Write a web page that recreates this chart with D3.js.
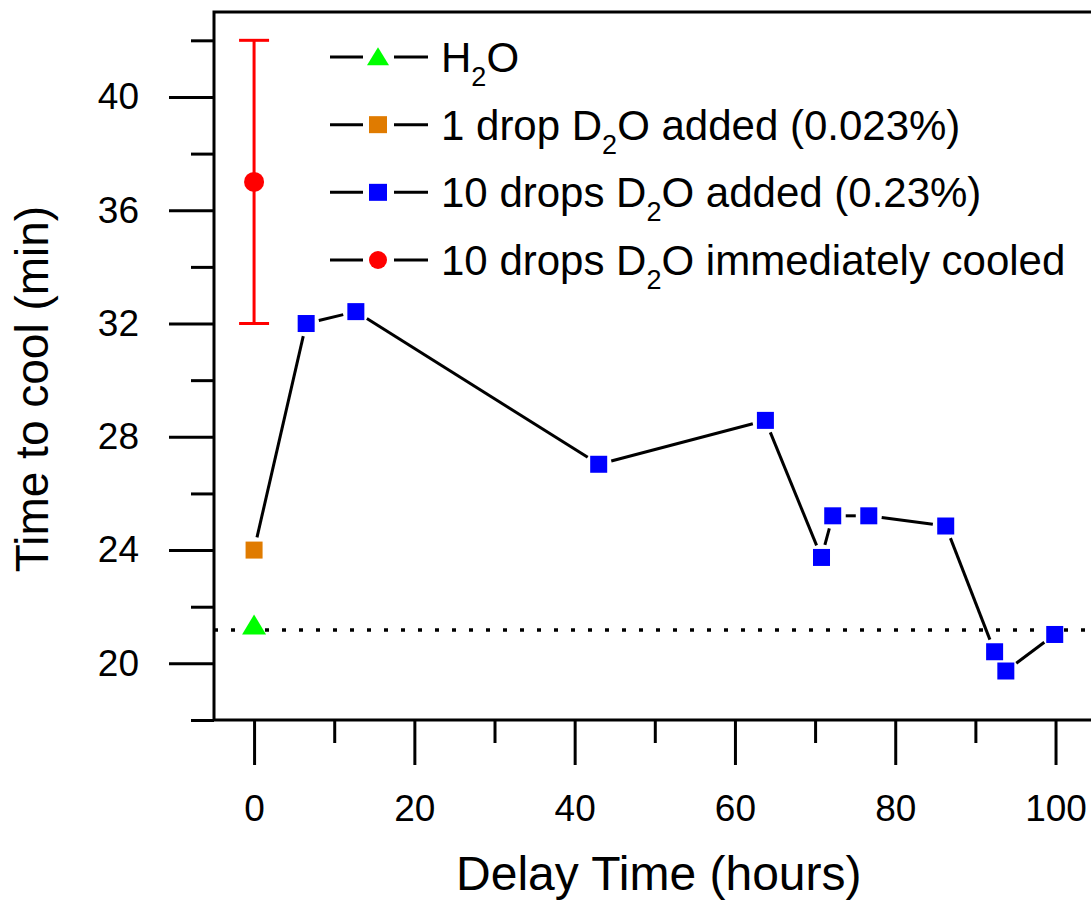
<!DOCTYPE html>
<html><head><meta charset="utf-8">
<script src="https://cdn.jsdelivr.net/npm/d3@7"></script>
<style>
html,body{margin:0;padding:0;background:#fff;}
svg{display:block;font-family:"Liberation Sans",Arial,sans-serif;}
</style></head>
<body>
<svg id="chart" width="1091" height="902"></svg>
<script>
// ---- data ----
const xTickMajor = [0, 20, 40, 60, 80, 100];
const xTickMinor = [10, 30, 50, 70, 90];
const yTickMajor = [20, 24, 28, 32, 36, 40];
const yTickMinor = [18, 22, 26, 30, 34, 38, 42];

const h2oPoint = [{x: 0, y: 21.3}];
const h2oRefLevel = 21.18;
const oneDropPoint = [{x: 0, y: 24.0}];
const tenDropsX = [0, 6.5, 12.7, 43.0, 63.8, 70.8, 72.2, 76.7, 86.3, 92.4, 93.8, 99.9];
const tenDropsY = [24.0, 32.0, 32.42, 27.03, 28.58, 23.74, 25.21, 25.21, 24.85, 20.41, 19.73, 21.02];
const immediatePoint = [{x: 0, y: 37.0, lo: 32.0, hi: 42.0}];

const legendItems = [
  {pre: "H", sub: "2", post: "O", marker: "triangle", color: "#00ff00"},
  {pre: "1 drop D", sub: "2", post: "O added (0.023%)", marker: "square", color: "#e07b00"},
  {pre: "10 drops D", sub: "2", post: "O added (0.23%)", marker: "square", color: "#0000ff"},
  {pre: "10 drops D", sub: "2", post: "O immediately cooled", marker: "circle", color: "#ff0000"}
];

// ---- chart ----
const svg = d3.select("#chart");
const x = d3.scaleLinear().domain([-5, 105]).range([214, 1095.6]);
const y = d3.scaleLinear().domain([18, 43]).range([720, 12]);
const X0 = x.range()[0], X1 = x.range()[1], Y0 = y.range()[0], Y1 = y.range()[1];

const axisStroke = 3;
const fam = "Liberation Sans, Arial, sans-serif";

// y axis major
const yAxisMajor = d3.axisLeft(y).tickValues(yTickMajor).tickSize(45).tickPadding(30).tickFormat(d3.format("d"));
const gy = svg.append("g").attr("transform", `translate(${X0},0)`).call(yAxisMajor);
gy.select(".domain").remove();
gy.selectAll(".tick line").attr("stroke", "#000").attr("stroke-width", axisStroke);
gy.selectAll(".tick text").attr("font-size", 37).attr("fill", "#000").attr("font-family", fam);
const yAxisMinor = d3.axisLeft(y).tickValues(yTickMinor).tickSize(23).tickFormat("");
const gy2 = svg.append("g").attr("transform", `translate(${X0},0)`).call(yAxisMinor);
gy2.select(".domain").remove();
gy2.selectAll(".tick line").attr("stroke", "#000").attr("stroke-width", axisStroke);

// x axis
const xAxisMajor = d3.axisBottom(x).tickValues(xTickMajor).tickSize(45).tickPadding(30).tickFormat(d3.format("d"));
const gx = svg.append("g").attr("transform", `translate(0,${Y0})`).call(xAxisMajor);
gx.select(".domain").remove();
gx.selectAll(".tick line").attr("stroke", "#000").attr("stroke-width", axisStroke);
gx.selectAll(".tick text").attr("font-size", 37).attr("fill", "#000").attr("font-family", fam);
const xAxisMinor = d3.axisBottom(x).tickValues(xTickMinor).tickSize(23).tickFormat("");
const gx2 = svg.append("g").attr("transform", `translate(0,${Y0})`).call(xAxisMinor);
gx2.select(".domain").remove();
gx2.selectAll(".tick line").attr("stroke", "#000").attr("stroke-width", axisStroke);

// frame
svg.append("path")
  .attr("d", `M${X1},${Y1}H${X0}V${Y0}H${X1}`)
  .attr("fill", "none").attr("stroke", "#000").attr("stroke-width", axisStroke)
  .attr("stroke-linecap", "square");

// axis titles
svg.append("text").attr("x", (x(0) + x(100)) / 2 + 4).attr("y", 890)
  .attr("text-anchor", "middle").attr("font-size", 48).text("Delay Time (hours)");
svg.append("text").attr("transform", `translate(48,${389}) rotate(-90)`)
  .attr("text-anchor", "middle").attr("font-size", 46).text("Time to cool (min)");

// dotted reference line
svg.append("line")
  .attr("x1", X0).attr("x2", X1)
  .attr("y1", y(h2oRefLevel)).attr("y2", y(h2oRefLevel))
  .attr("stroke", "#000").attr("stroke-width", 3.5)
  .attr("stroke-dasharray", "4 13");

// connecting line with gaps around markers
const tenDrops = tenDropsX.map((v, i) => ({x: v, y: tenDropsY[i]}));
const gap = 13;
const segs = d3.pairs(tenDrops).map(([a, b]) => {
  const ax = x(a.x), ay = y(a.y), bx = x(b.x), by = y(b.y);
  const dx = bx - ax, dy = by - ay, L = Math.hypot(dx, dy);
  const ux = dx / L, uy = dy / L;
  return L > 2 * gap ? [[ax + ux * gap, ay + uy * gap], [bx - ux * gap, by - uy * gap]] : null;
}).filter(Boolean);
svg.append("g").selectAll("line").data(segs).join("line")
  .attr("x1", d => d[0][0]).attr("y1", d => d[0][1])
  .attr("x2", d => d[1][0]).attr("y2", d => d[1][1])
  .attr("stroke", "#000").attr("stroke-width", 3);

// error bar
const eb = svg.append("g");
immediatePoint.forEach(p => {
  eb.append("line").attr("x1", x(p.x)).attr("x2", x(p.x)).attr("y1", y(p.lo)).attr("y2", y(p.hi))
    .attr("stroke", "#ff0000").attr("stroke-width", 3);
  [p.lo, p.hi].forEach(v => eb.append("line")
    .attr("x1", x(p.x) - 15).attr("x2", x(p.x) + 15).attr("y1", y(v)).attr("y2", y(v))
    .attr("stroke", "#ff0000").attr("stroke-width", 3));
  eb.append("circle").attr("cx", x(p.x)).attr("cy", y(p.y)).attr("r", 10).attr("fill", "#ff0000");
});

// markers
const sq = 17;
svg.append("g").selectAll("rect").data(tenDrops.slice(1)).join("rect")
  .attr("x", d => x(d.x) - sq / 2).attr("y", d => y(d.y) - sq / 2)
  .attr("width", sq).attr("height", sq).attr("fill", "#0000ff");
svg.append("g").selectAll("rect").data(oneDropPoint).join("rect")
  .attr("x", d => x(d.x) - sq / 2).attr("y", d => y(d.y) - sq / 2)
  .attr("width", sq).attr("height", sq).attr("fill", "#e07b00");
const tri = (cx, cy, w, h) => `M${cx},${cy - h * 0.6}L${cx + w / 2},${cy + h * 0.4}L${cx - w / 2},${cy + h * 0.4}Z`;
svg.append("g").selectAll("path").data(h2oPoint).join("path")
  .attr("d", d => tri(x(d.x), y(d.y), 24, 20)).attr("fill", "#00ff00");

// legend
const legendRow = d3.scalePoint().domain(d3.range(legendItems.length)).range([57, 260]);
const lg = svg.append("g");
legendItems.forEach((it, i) => {
  const cy = legendRow(i);
  const g = lg.append("g");
  g.append("line").attr("x1", 330).attr("x2", 363).attr("y1", cy).attr("y2", cy).attr("stroke", "#000").attr("stroke-width", 3);
  g.append("line").attr("x1", 394).attr("x2", 428).attr("y1", cy).attr("y2", cy).attr("stroke", "#000").attr("stroke-width", 3);
  const mx = 378;
  if (it.marker === "square") g.append("rect").attr("x", mx - 9).attr("y", cy - 8.5).attr("width", 18).attr("height", 17).attr("fill", it.color);
  else if (it.marker === "triangle") g.append("path").attr("d", tri(mx, cy + 1, 22, 18)).attr("fill", it.color);
  else g.append("circle").attr("cx", mx).attr("cy", cy).attr("r", 9).attr("fill", it.color);
  const t = g.append("text").attr("x", 441).attr("y", cy + 15).attr("font-size", 42);
  t.append("tspan").text(it.pre);
  t.append("tspan").attr("font-size", 27).attr("dy", 14).text(it.sub);
  t.append("tspan").attr("dy", -14).text(it.post);
});
</script>
</body></html>
